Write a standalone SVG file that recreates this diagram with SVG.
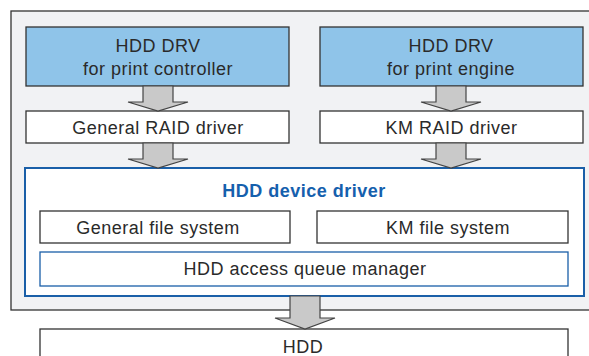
<svg xmlns="http://www.w3.org/2000/svg" width="589" height="356" viewBox="0 0 589 356">
<style>
.t{font-family:"Liberation Sans",Arial,sans-serif;font-size:18px;letter-spacing:0.5px;fill:#2a2a2a;text-anchor:middle}
.b{font-weight:bold;fill:#1560ad}
.box{fill:#ffffff;stroke:#333;stroke-width:1.3}
.drv{fill:#8fc4e9;stroke:#333;stroke-width:1.3}
.arr{fill:#c9c9c9;stroke:#444;stroke-width:1.2;stroke-linejoin:miter}
</style>
<rect x="0" y="0" width="589" height="356" fill="#ffffff"/>
<g id="system">
<rect x="11" y="11" width="600" height="299" fill="#f1f2f4" stroke="#333" stroke-width="1.3"/>
</g>
<g id="drv-controller">
<rect class="drv" x="26" y="27" width="263" height="59"/>
<text class="t" x="158" y="52">HDD DRV</text>
<text class="t" x="158" y="75">for print controller</text>
</g>
<g id="drv-engine">
<rect class="drv" x="320" y="27" width="263" height="59"/>
<text class="t" x="451" y="52">HDD DRV</text>
<text class="t" x="451" y="75">for print engine</text>
</g>
<g id="general-raid">
<rect class="box" x="26" y="111" width="263" height="32"/>
<text class="t" x="158" y="133.5">General RAID driver</text>
</g>
<g id="km-raid">
<rect class="box" x="320" y="111" width="263" height="32"/>
<text class="t" x="451.5" y="133.5">KM RAID driver</text>
</g>
<g id="device-driver">
<rect x="25" y="168" width="559" height="128" fill="#ffffff" stroke="#1a5fa8" stroke-width="2"/>
<text class="t b" x="304" y="197">HDD device driver</text>
</g>
<g id="general-fs">
<rect class="box" x="40" y="211" width="250" height="32"/>
<text class="t" x="158" y="233.5">General file system</text>
</g>
<g id="km-fs">
<rect class="box" x="317" y="211" width="251" height="32"/>
<text class="t" x="448" y="233.5">KM file system</text>
</g>
<g id="queue-manager">
<rect x="40" y="252" width="528" height="34" fill="#ffffff" stroke="#1a5fa8" stroke-width="1.3"/>
<text class="t" x="305" y="275">HDD access queue manager</text>
</g>
<g id="hdd">
<rect class="box" x="40" y="329" width="528" height="40"/>
<text class="t" x="303" y="353">HDD</text>
</g>
<g id="connectors">
<polygon class="arr" points="143,86 173,86 173,102 188,102 158,111 128,102 143,102"/>
<polygon class="arr" points="143,143 173,143 173,159 188,159 158,168 128,159 143,159"/>
<polygon class="arr" points="436,86 466,86 466,102 481,102 451,111 421,102 436,102"/>
<polygon class="arr" points="436,143 466,143 466,159 481,159 451,168 421,159 436,159"/>
<polygon class="arr" points="290,296 320,296 320,318 335,318 305,329 275,318 290,318"/>
</g>
</svg>
